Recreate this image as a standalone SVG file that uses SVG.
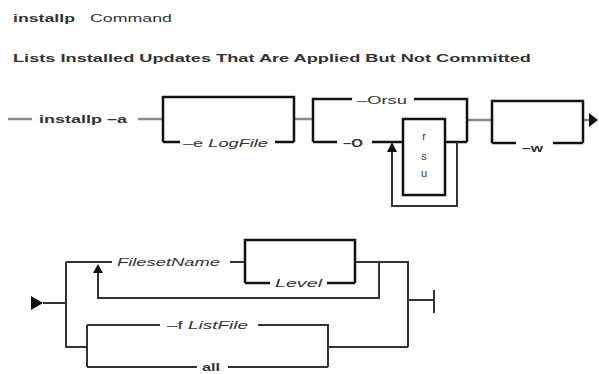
<svg xmlns="http://www.w3.org/2000/svg" width="599" height="374" viewBox="0 0 599 374">
<style>
.t{font-family:"Liberation Sans",Arial,sans-serif;fill:#333;font-size:11px}
.i{font-style:italic}
.bd{font-weight:bold}
.b{fill:none;stroke:#111;stroke-width:2.5}
.g{fill:none;stroke:#8a8a8a;stroke-width:2.5}
.l{fill:none;stroke:#333;stroke-width:2}
.m{fill:#111;stroke:none}
</style>
<rect width="599" height="374" fill="#fff"/>
<g id="title">
<text class="t bd" x="13" y="22" font-size="13" textLength="62" lengthAdjust="spacingAndGlyphs">installp</text>
<text class="t" x="90" y="22" font-size="13" textLength="82" lengthAdjust="spacingAndGlyphs">Command</text>
<text class="t bd" x="13" y="62" font-size="12.5" fill="#222" textLength="518" lengthAdjust="spacingAndGlyphs">Lists Installed Updates That Are Applied But Not Committed</text>
</g>
<g id="connectors">
<path class="g" d="M8 119H32M138 119H163M294 119H313M467 120H492M583 120H589"/>
<path class="b" d="M163 142V97H294V142M163 142H180M275 142H294"/>
<path class="b" d="M313 142V99H352M414 99H467V142M313 142H337M372 142H403M445 142H467"/>
<path class="l" d="M457 142V206H392V152"/>
<polygon class="m" points="392,142 387,152 397,152"/>
<path class="b" d="M492 143V101H583V143M492 143H516M553 143H583"/>
<polygon class="m" points="589,113 598,120 589,127"/>
<polygon class="m" points="31,296 43,303 31,310"/>
<path class="l" d="M43 303H66M66 262V347H87M66 262H112M98 273V298H379V262M230 262H245M355 262H408M87 325V367M87 325H160M258 325H328V367M87 367H197M228 367H328M328 347H408M408 261V347M408 300H434M434 290V313"/>
<path class="b" d="M245 283V240H355V283M245 283H270M327 283H355"/>
<polygon class="m" points="98,264 93,273 103,273"/>
</g>
<g id="n-installp"><text class="t bd" x="39" y="123" textLength="88" lengthAdjust="spacingAndGlyphs" fill="#555">installp –a</text></g>
<g id="n-logfile"><text class="t" x="183" y="147" textLength="85" lengthAdjust="spacingAndGlyphs" fill="#555">–e <tspan class="i">LogFile</tspan></text></g>
<g id="n-orsu"><text class="t" x="357" y="104" font-size="12" textLength="50" lengthAdjust="spacingAndGlyphs" fill="#555">–Orsu</text></g>
<g id="n-o"><text class="t bd" x="343" y="147" textLength="20" lengthAdjust="spacingAndGlyphs" fill="#555">–O</text></g>
<g id="n-rsu">
<rect x="403" y="119" width="42" height="76" class="b" stroke-width="2"/>
<text class="t" x="424" y="140" text-anchor="middle" font-size="12" fill="#555">r</text>
<text class="t" x="424" y="160" text-anchor="middle" font-size="12" fill="#555">s</text>
<text class="t" x="424" y="177" text-anchor="middle" font-size="12" fill="#555">u</text>
</g>
<g id="n-w"><text class="t bd" x="522" y="152" textLength="21" lengthAdjust="spacingAndGlyphs" fill="#555">–w</text></g>
<g id="n-fileset"><text class="t i" x="117" y="266" textLength="103" lengthAdjust="spacingAndGlyphs" fill="#555">FilesetName</text></g>
<g id="n-level"><text class="t i" x="275" y="287" textLength="47" lengthAdjust="spacingAndGlyphs" fill="#555">Level</text></g>
<g id="n-listfile"><text class="t" x="167" y="329" textLength="81" lengthAdjust="spacingAndGlyphs" fill="#555">–f <tspan class="i">ListFile</tspan></text></g>
<g id="n-all"><text class="t bd" x="202" y="371" textLength="18" lengthAdjust="spacingAndGlyphs" fill="#555">all</text></g>
</svg>
